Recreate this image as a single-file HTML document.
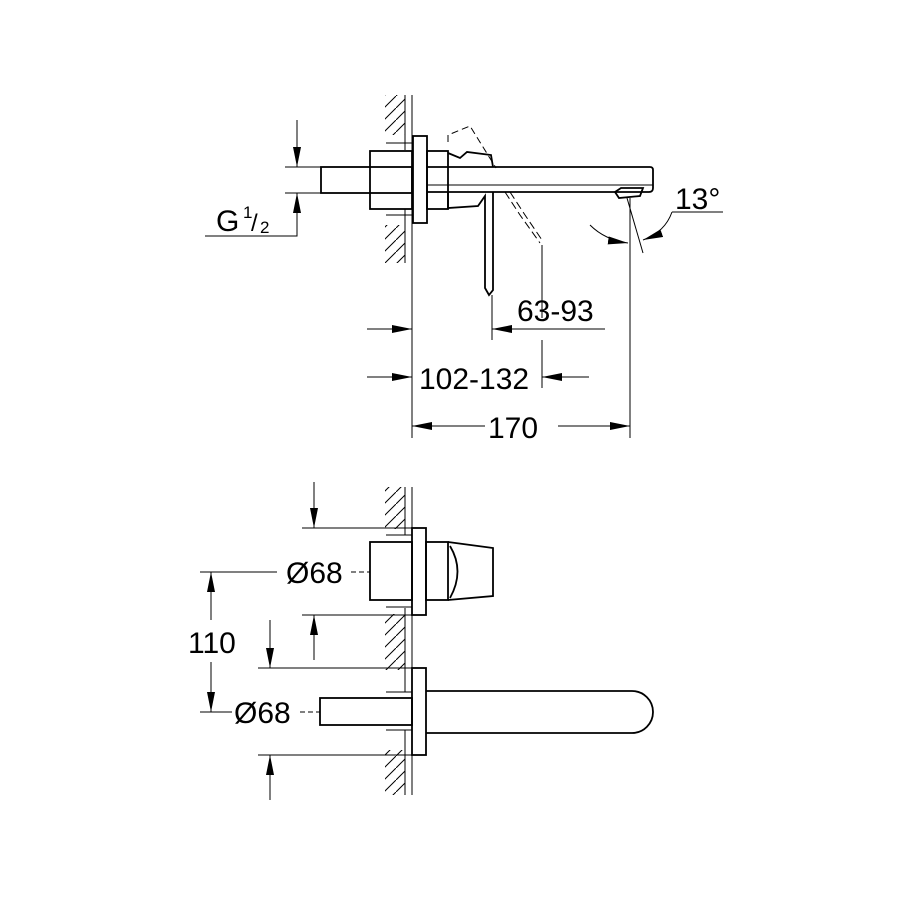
<!DOCTYPE html>
<html><head><meta charset="utf-8"><style>html,body{margin:0;padding:0;background:#fff}svg{display:block}</style></head>
<body>
<svg width="900" height="900" viewBox="0 0 900 900" xmlns="http://www.w3.org/2000/svg" font-family="Liberation Sans, sans-serif">
<defs>
<marker id="a" viewBox="0 0 10 4" refX="10" refY="2" markerWidth="20" markerHeight="8" markerUnits="userSpaceOnUse" orient="auto"><path d="M0,0L10,2L0,4z" fill="#000"/></marker>
<pattern id="h" width="12" height="12" patternUnits="userSpaceOnUse"><path d="M-3,15L15,-3" stroke="#000" stroke-width="1"/></pattern>
</defs>
<g fill="none" stroke="#000" stroke-width="1">
<!-- TOP VIEW -->
<rect x="385" y="95" width="20" height="40" fill="url(#h)" stroke="none"/>
<rect x="385" y="225" width="20" height="38" fill="url(#h)" stroke="none"/>
<line x1="405" y1="95" x2="405" y2="150"/><line x1="405" y1="209" x2="405" y2="263"/>
<line x1="412" y1="95" x2="412" y2="438"/>
<line x1="386" y1="143" x2="412" y2="143"/><line x1="386" y1="215" x2="412" y2="215"/>
<g stroke-width="1.8">
<rect x="321" y="167" width="91" height="26"/>
<rect x="370" y="151" width="42" height="58"/>
<rect x="413" y="136" width="14" height="87"/>
<rect x="427" y="151" width="21" height="58"/>
<path d="M427,167H650q3,0 3,3V188q0,4 -4,4H427"/>
<path d="M615,192L621,188H643L640,196L619,198Z"/>
<path d="M448,153L460,158L467,152L491,155L493,167"/>
<path d="M448,193V208L478,206L485,196V288L489,295L493,290V192"/>
</g>
<line x1="427" y1="185" x2="653" y2="185"/>
<path d="M448,142V135L470,126L496,168" stroke-dasharray="7,4"/>
<path d="M505,192L520,215L540,243" stroke-dasharray="8,4"/>
<path d="M510,192L525,215L542,240" stroke-dasharray="8,4"/>
<path d="M542,245V318M542,340V388"/>
<line x1="492" y1="295" x2="492" y2="340"/>
<line x1="630" y1="198" x2="630" y2="438"/>
<line x1="627" y1="198" x2="643" y2="253"/>
<path d="M590,225Q605,240 628,243" marker-end="url(#a)"/>
<path d="M672,212Q665,232 643,240" marker-end="url(#a)"/>
<line x1="672" y1="212" x2="723" y2="212"/>
<!-- G1/2 -->
<line x1="285" y1="167" x2="321" y2="167"/><line x1="285" y1="193" x2="321" y2="193"/>
<line x1="297" y1="120" x2="297" y2="167" marker-end="url(#a)"/>
<path d="M205,236H297V193" marker-end="url(#a)"/>
<!-- dims -->
<line x1="367" y1="329" x2="412" y2="329" marker-end="url(#a)"/>
<line x1="605" y1="329" x2="492" y2="329" marker-end="url(#a)"/>
<line x1="367" y1="377" x2="412" y2="377" marker-end="url(#a)"/>
<line x1="589" y1="377" x2="542" y2="377" marker-end="url(#a)"/>
<line x1="485" y1="426" x2="412" y2="426" marker-end="url(#a)"/>
<line x1="558" y1="426" x2="630" y2="426" marker-end="url(#a)"/>
<!-- BOTTOM VIEW -->
<rect x="385" y="487" width="20" height="42" fill="url(#h)" stroke="none"/>
<rect x="385" y="614" width="20" height="56" fill="url(#h)" stroke="none"/>
<rect x="385" y="750" width="20" height="45" fill="url(#h)" stroke="none"/>
<line x1="405" y1="487" x2="405" y2="535"/><line x1="405" y1="608" x2="405" y2="692"/><line x1="405" y1="730" x2="405" y2="795"/>
<line x1="412" y1="487" x2="412" y2="795"/>
<line x1="386" y1="535" x2="412" y2="535"/><line x1="386" y1="607" x2="412" y2="607"/>
<line x1="386" y1="692" x2="412" y2="692"/><line x1="386" y1="730" x2="412" y2="730"/>
<g stroke-width="1.8">
<rect x="370" y="542" width="42" height="58"/>
<rect x="412" y="528" width="14" height="87"/>
<rect x="426" y="542" width="22" height="58"/>
<path d="M448,542L493,548V596L448,600"/>
<path d="M450,546Q465,571 450,598"/>
<rect x="320" y="698" width="92" height="27"/>
<rect x="412" y="668" width="14" height="87"/>
<path d="M426,691H632a21,21 0 0 1 0,42H426"/>
</g>
<line x1="302" y1="528" x2="412" y2="528"/><line x1="302" y1="615" x2="412" y2="615"/>
<line x1="314" y1="482" x2="314" y2="528" marker-end="url(#a)"/>
<line x1="314" y1="660" x2="314" y2="615" marker-end="url(#a)"/>
<line x1="200" y1="572" x2="277" y2="572"/><line x1="351" y1="572" x2="370" y2="572" stroke-dasharray="5,3"/>
<line x1="200" y1="712" x2="232" y2="712"/><line x1="300" y1="712" x2="320" y2="712" stroke-dasharray="5,3"/>
<line x1="211" y1="620" x2="211" y2="572" marker-end="url(#a)"/>
<line x1="211" y1="662" x2="211" y2="712" marker-end="url(#a)"/>
<line x1="258" y1="668" x2="412" y2="668"/><line x1="258" y1="755" x2="412" y2="755"/>
<line x1="270" y1="620" x2="270" y2="668" marker-end="url(#a)"/>
<line x1="270" y1="800" x2="270" y2="755" marker-end="url(#a)"/>
</g>
<g fill="#000" font-size="30">
<text x="216" y="231">G</text><text x="243" y="218" font-size="17">1</text><text x="251" y="231" font-size="24">/</text><text x="260" y="233" font-size="17">2</text>
<text x="675" y="209">13°</text>
<text x="517" y="321">63-93</text>
<text x="419" y="389">102-132</text>
<text x="488" y="438">170</text>
<text x="286" y="583">Ø68</text>
<text x="188" y="653">110</text>
<text x="234" y="723">Ø68</text>
</g>
</svg>
</body></html>
